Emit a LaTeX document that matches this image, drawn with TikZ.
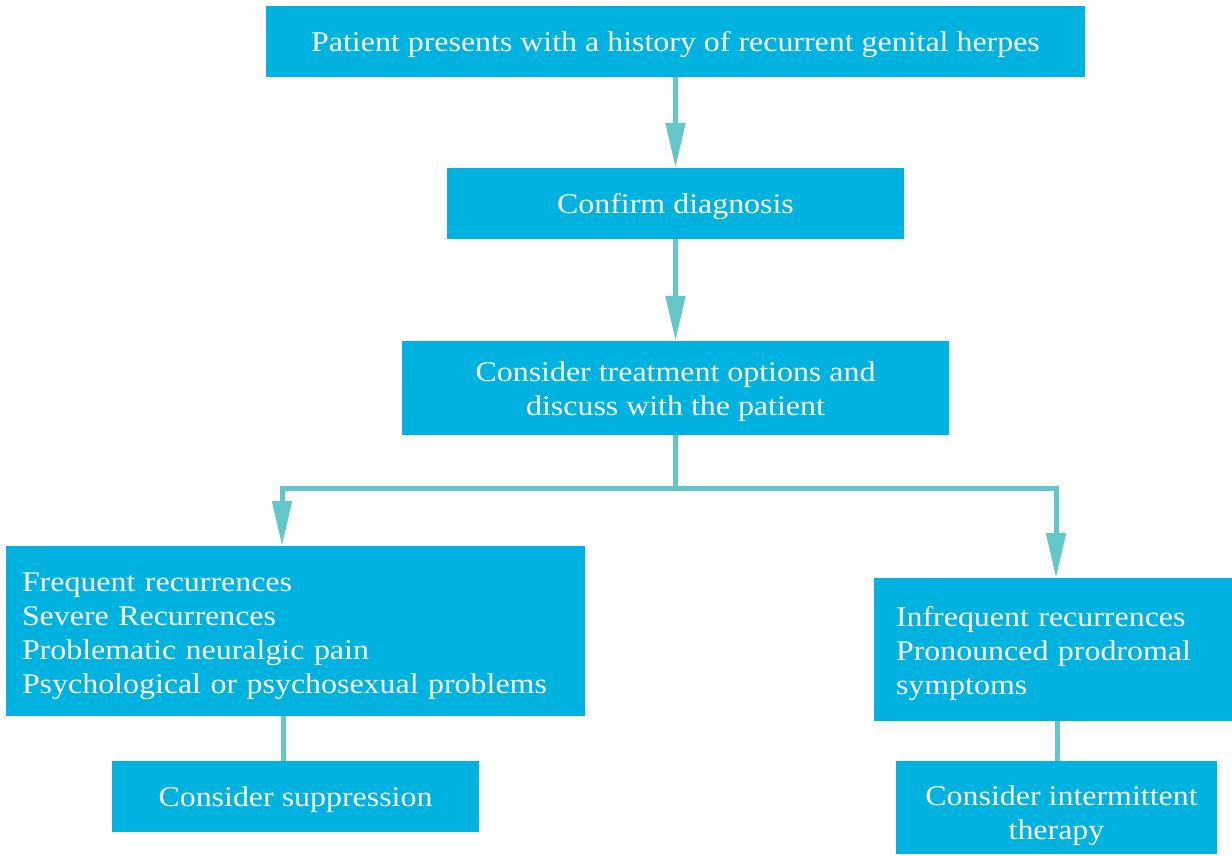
\documentclass[tikz,border=0pt]{standalone}
\usepackage{fontspec}
\setmainfont[FakeStretch=1.12]{Liberation Serif}
\usetikzlibrary{arrows.meta}
\definecolor{boxc}{HTML}{00B2E0}
\definecolor{arrc}{HTML}{62C7C9}
\newcommand\boxtext[3][3.5pt]{\raisebox{0pt}[\dimexpr\height+2\dimexpr#1\relax\relax]{\begin{tabular}{@{}#2@{}}#3\end{tabular}}}
\tikzset{
  box/.style={fill=boxc, text=white, inner sep=0pt, font=\fontsize{28.5}{34}\selectfont},
  arr/.style={draw=arrc, line width=5pt, -{Triangle[width=19pt,length=45pt]}},
  link/.style={draw=arrc, line width=5pt},
}
\begin{document}
\begin{tikzpicture}[x=1pt,y=-1pt]
\useasboundingbox (0,0) rectangle (1232,855);
\node[box, minimum width=819pt, minimum height=71pt] (top) at (675.5,41.5) {\boxtext{c}{Patient presents with a history of recurrent genital herpes}};
\node[box, minimum width=457pt, minimum height=71pt] (confirm) at (675.5,203.5) {\boxtext{c}{Confirm diagnosis}};
\node[box, minimum width=547pt, minimum height=94pt] (consider) at (675.5,388) {\boxtext{c}{Consider treatment options and\\discuss with the patient}};
\node[box, minimum width=579pt, minimum height=170pt, align=left, text width=547pt] (left) at (295.5,631) {\boxtext[5pt]{l}{Frequent recurrences\\Severe Recurrences\\Problematic neuralgic pain\\Psychological or psychosexual problems}};
\node[box, minimum width=358pt, minimum height=143pt, align=left, text width=314pt] (right) at (1053,649.5) {\boxtext[4pt]{l}{Infrequent recurrences\\Pronounced prodromal\\symptoms}};
\node[box, minimum width=367pt, minimum height=71pt] (supp) at (295.5,796.5) {\boxtext{c}{Consider suppression}};
\node[box, minimum width=321pt, minimum height=93pt] (inter) at (1056.5,807.5) {\boxtext[8pt]{c}{\hspace*{10pt}Consider intermittent\\therapy}};
\coordinate (split) at (675.5,488);
\coordinate (lj) at (282,546);
\coordinate (rj) at (1056,578);
\coordinate (lb) at (283,716);
\coordinate (lt) at (283,761);
\coordinate (rb) at (1057,721);
\coordinate (rt) at (1057,761);
\draw[arr] (top) -- (confirm);
\draw[arr] (confirm) -- (consider);
\draw[link] (consider.south) -- (split);
\draw[arr] ([xshift=2.5pt]split) -| (lj);
\draw[arr] ([xshift=-2.5pt]split) -| (rj);
\draw[link] (lb) -- (lt);
\draw[link] (rb) -- (rt);
\end{tikzpicture}
\end{document}
